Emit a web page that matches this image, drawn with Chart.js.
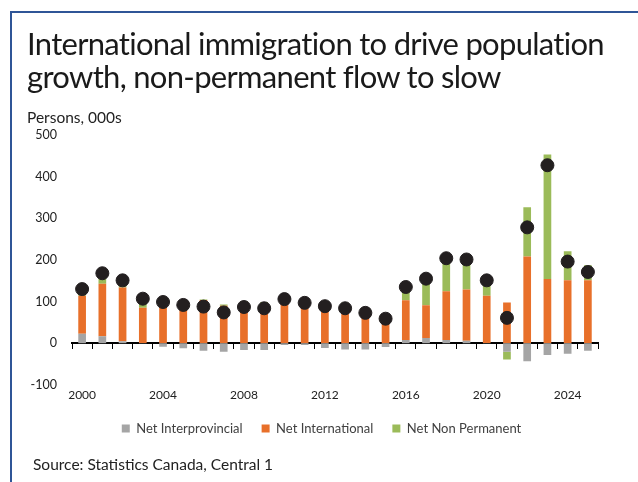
<!DOCTYPE html>
<html>
<head>
<meta charset="utf-8">
<script src="https://cdn.jsdelivr.net/npm/chart.js@4.4.1/dist/chart.umd.min.js"></script>
<style>
  body { margin: 0; background: #fff; }
  #wrap { position: relative; width: 638px; height: 482px; overflow: hidden; }
  #frame { position: absolute; left: 10px; top: 11px; width: 700px; height: 600px;
           border-left: 2px solid #2f5597; border-top: 2px solid #2f5597; }
  #title { position: absolute; left: 27px; top: 26.5px; font: 31px/33px Lato, sans-serif;
           letter-spacing: -0.7px; color: #1a1a1a; white-space: nowrap; }
  #source { position: absolute; left: 33px; top: 455px; font: 15.5px Lato, sans-serif; color: #222; }
  canvas { position: absolute; left: 0; top: 0; }
</style>
</head>
<body>
<div id="wrap">
  <div id="frame"></div>
  <canvas id="migration" width="638" height="482"></canvas>
  <div id="title">International immigration to drive population<br>growth, non-permanent flow to slow</div>
  <div id="source">Source: Statistics Canada, Central 1</div>
</div>
<script>
// -------- components of population flow, thousands of persons -------- //
var years = ['2000', '2001', '2002', '2003', '2004', '2005', '2006', '2007', '2008', '2009',
             '2010', '2011', '2012', '2013', '2014', '2015', '2016', '2017', '2018', '2019',
             '2020', '2021', '2022', '2023', '2024', '2025'];
var interprovincial = [23, 17, 5, 1, -8, -12, -18, -20, -16, -16, -4, -4, -11, -15, -15, -9,
                       8, 13, 8, 6, 1, -20, -43, -28, -25, -18];
var international = [91, 126, 129, 84, 90, 81, 104, 90, 98, 95, 98, 93, 80, 94, 83, 49,
                     95, 78, 117, 123, 113, 98, 208, 154, 151, 151];
var nonPermanent = [5, 13, 6, 12, 0, 0, 1, 3, 3, 4, 0, 0, 2, 3, 3, 0,
                    21, 52, 72, 66, 27, -19, 118, 299, 70, 36];
var total = [130, 168, 151, 107, 99, 92, 88, 74, 87, 84, 106, 97, 89, 84, 73, 59,
             135, 155, 204, 201, 151, 61, 278, 427, 196, 171];
var labelYears = ['2000', '2004', '2008', '2012', '2016', '2020', '2024'];

var font = 'Lato';
Chart.defaults.font.family = font;
Chart.defaults.color = '#222';

// legend sits a touch right of the canvas centre
var legendShift = {
    id: 'legendShift',
    afterLayout: function (chart) {
        chart.legend.left += 9;
        chart.legend.right += 9;
    }
};

var ctx = document.getElementById('migration').getContext('2d');

new Chart(ctx, {
    type: 'bar',
    data: {
        labels: years,
        datasets: [
            {
                type: 'line',
                label: 'Total',
                data: total,
                stack: 'total',
                showLine: false,
                pointRadius: 6.5,
                pointHoverRadius: 6.5,
                pointBorderWidth: 1,
                pointBackgroundColor: '#231f20',
                pointBorderColor: '#231f20',
                order: 0
            },
            {
                label: 'Net Interprovincial',
                data: interprovincial,
                backgroundColor: '#a5a5a5',
                stack: 'flow',
                order: 1
            },
            {
                label: 'Net International',
                data: international,
                backgroundColor: '#e8702a',
                stack: 'flow',
                order: 1
            },
            {
                label: 'Net Non Permanent',
                data: nonPermanent,
                backgroundColor: '#9bbb59',
                stack: 'flow',
                order: 1
            }
        ]
    },
    options: {
        responsive: false,
        animation: false,
        categoryPercentage: 1,
        barPercentage: 0.38,
        layout: { padding: { left: 27, right: 40, bottom: 37 } },
        plugins: {
            subtitle: {
                display: true,
                align: 'start',
                text: 'Persons, 000s',
                font: { family: font, size: 15.5 },
                color: '#222',
                padding: { top: 108.7, bottom: 7.5 }
            },
            legend: {
                position: 'bottom',
                labels: {
                    boxWidth: 8,
                    boxHeight: 8,
                    padding: 19,
                    color: '#404040',
                    font: { family: font, size: 13 },
                    filter: function (item) { return item.text !== 'Total'; }
                }
            },
            tooltip: { enabled: false }
        },
        scales: {
            x: {
                stacked: true,
                grid: { display: false, drawTicks: false },
                border: { display: false },
                afterFit: function (scale) { scale.height = 18; },
                ticks: {
                    autoSkip: false,
                    maxRotation: 0,
                    padding: 3,
                    font: { family: font, size: 12 },
                    callback: function (value) {
                        var y = this.getLabelForValue(value);
                        return labelYears.indexOf(y) >= 0 ? y : '';
                    }
                }
            },
            // zero line with tick marks between years
            x2: {
                type: 'category',
                position: { y: 0 },
                offset: true,
                grid: { offset: true, drawOnChartArea: false, tickLength: 5, color: '#000' },
                border: { color: '#000', width: 2 },
                ticks: { display: false }
            },
            y: {
                stacked: true,
                min: -100,
                max: 500,
                grid: { display: false, drawTicks: false },
                border: { display: false },
                afterFit: function (scale) { scale.width = 45; },
                ticks: {
                    stepSize: 100,
                    padding: 15,
                    font: { family: font, size: 12.5 }
                }
            }
        }
    },
    plugins: [legendShift]
});
</script>
</body>
</html>
